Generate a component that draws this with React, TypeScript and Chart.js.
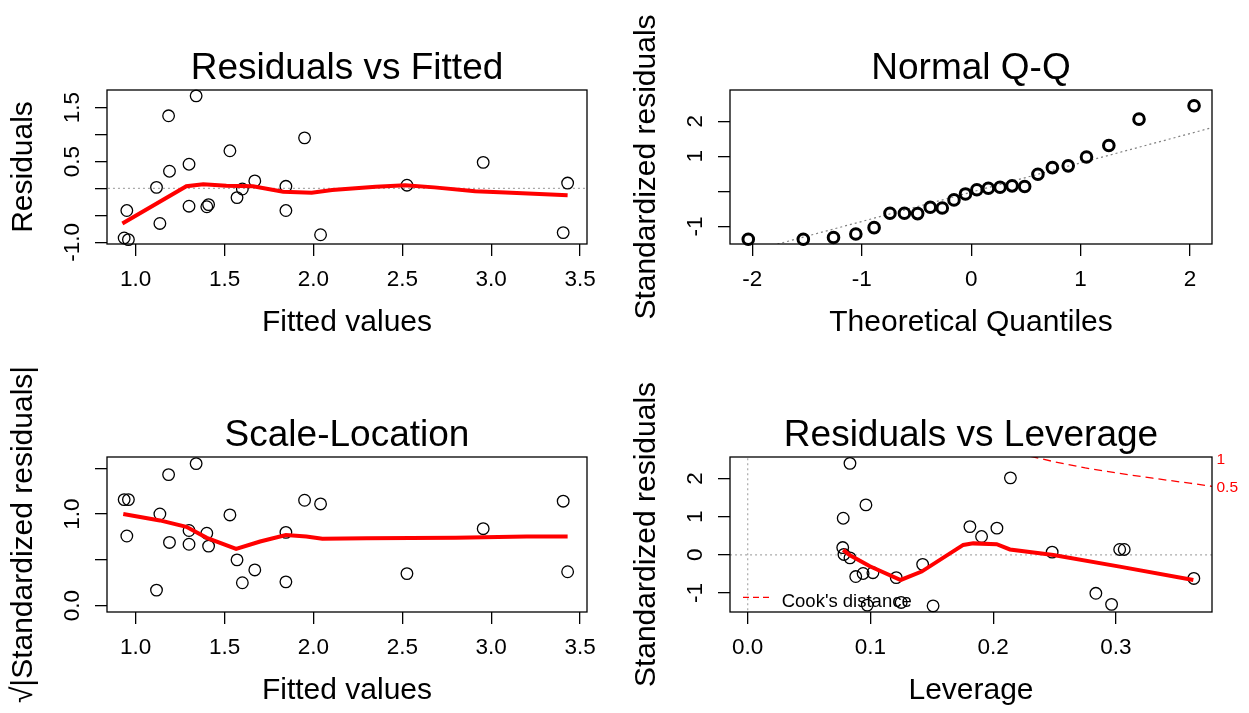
import React, { useEffect, useRef } from "react";
import { Chart, registerables } from "chart.js";

Chart.register(...registerables);

const FONT = '"Liberation Sans", Arial, Helvetica, sans-serif';

// ---------- Panel 1: Residuals vs Fitted ----------
const fittedValues = [0.935, 0.959, 0.95, 1.136, 1.117, 1.19, 1.185, 1.3, 1.3, 1.34, 1.4, 1.41, 1.53, 1.57, 1.6, 1.67, 1.845, 1.845, 1.95, 2.04, 2.526, 2.955, 3.43, 3.405];
const residuals = [-0.92, -0.95, -0.41, -0.65, 0.02, 0.32, 1.35, 0.45, -0.33, 1.72, -0.34, -0.3, 0.7, -0.17, -0.01, 0.14, 0.04, -0.41, 0.94, -0.86, 0.06, 0.485, 0.1, -0.82];
const rvfSmoothX = [0.925, 1.285, 1.38, 1.51, 1.66, 1.83, 1.99, 2.105, 2.35, 2.516, 2.68, 2.91, 3.08, 3.43];
const rvfSmoothY = [-0.65, 0.04, 0.08, 0.05, 0.04, -0.06, -0.08, -0.03, 0.03, 0.06, 0.02, -0.05, -0.075, -0.125];
const fittedTicks = [1.0, 1.5, 2.0, 2.5, 3.0, 3.5];
const fittedTickLabels = ["1.0", "1.5", "2.0", "2.5", "3.0", "3.5"];
const residTicks = [-1.0, -0.5, 0, 0.5, 1.0, 1.5];
const residTickLabels = ["-1.0", "", "", "0.5", "", "1.5"];

// ---------- Panel 2: Normal Q-Q ----------
const theoreticalQuantiles = [-2.037, -1.534, -1.258, -1.054, -0.887, -0.742, -0.61, -0.489, -0.374, -0.264, -0.157, -0.052, 0.052, 0.157, 0.264, 0.374, 0.489, 0.61, 0.742, 0.887, 1.054, 1.258, 1.534, 2.037];
const stdResidualsSorted = [-1.36, -1.36, -1.31, -1.21, -1.03, -0.62, -0.62, -0.63, -0.45, -0.47, -0.24, -0.07, 0.05, 0.09, 0.12, 0.16, 0.14, 0.49, 0.68, 0.73, 0.98, 1.31, 2.06, 2.44];
const qqLineX = [-2.3, 2.3];
const qqLineY = [-1.94, 1.9];
const qqXTicks = [-2, -1, 0, 1, 2];
const qqXTickLabels = ["-2", "-1", "0", "1", "2"];
const qqYTicks = [-1, 0, 1, 2];
const qqYTickLabels = ["-1", "", "1", "2"];

// ---------- Panel 3: Scale-Location ----------
const sqrtStdResiduals = [1.157, 1.157, 0.76, 1.0, 0.17, 0.69, 1.43, 0.82, 0.67, 1.55, 0.79, 0.65, 0.99, 0.5, 0.25, 0.39, 0.8, 0.26, 1.15, 1.11, 0.35, 0.84, 0.37, 1.14];
const slSmoothX = [0.93, 1.136, 1.285, 1.4, 1.565, 1.7, 1.845, 1.96, 2.05, 2.3, 2.8, 3.2, 3.43];
const slSmoothY = [1.0, 0.93, 0.86, 0.74, 0.62, 0.7, 0.77, 0.755, 0.73, 0.735, 0.74, 0.755, 0.755];
const slYTicks = [0, 0.5, 1.0, 1.5];
const slYTickLabels = ["0.0", "", "1.0", ""];

// ---------- Panel 4: Residuals vs Leverage ----------
const leverage = [0.0833, 0.0963, 0.0778, 0.0774, 0.0784, 0.0833, 0.088, 0.094, 0.102, 0.0974, 0.121, 0.125, 0.1425, 0.151, 0.181, 0.1905, 0.203, 0.214, 0.248, 0.2836, 0.2964, 0.303, 0.3067, 0.3634];
const levStdResiduals = [2.4, 1.31, 0.96, 0.19, 0.01, -0.08, -0.57, -0.49, -0.47, -1.32, -0.6, -1.25, -0.25, -1.34, 0.74, 0.48, 0.7, 2.02, 0.07, -1.01, -1.3, 0.14, 0.14, -0.62];
const levSmoothX = [0.0778, 0.083, 0.0995, 0.1246, 0.1417, 0.1756, 0.1837, 0.2028, 0.2136, 0.249, 0.303, 0.363];
const levSmoothY = [0.13, -0.005, -0.3, -0.66, -0.44, 0.26, 0.3, 0.28, 0.14, -0.005, -0.31, -0.66];
const cookHalfX = [0.22, 0.25, 0.275, 0.3, 0.33, 0.36, 0.38];
const cookHalfY = [2.66, 2.44, 2.28, 2.15, 2.01, 1.88, 1.79];
const cookLevelLabels = ["1", "0.5"];
const cookLabelY = [2.5, 1.75];
const levXTicks = [0, 0.1, 0.2, 0.3];
const levXTickLabels = ["0.0", "0.1", "0.2", "0.3"];
const levYTicks = [-1, 0, 1, 2];
const levYTickLabels = ["-1", "0", "1", "2"];

const pts = (xs: number[], ys: number[]) => xs.map((x, i) => ({ x, y: ys[i] }));

const pointSet = (xs: number[], ys: number[], bold = false) => ({
  data: pts(xs, ys),
  showLine: false,
  pointStyle: "circle",
  pointRadius: bold ? 5.3 : 5.8,
  pointBorderWidth: bold ? 3 : 1.3,
  pointBorderColor: "#000",
  pointBackgroundColor: "rgba(0,0,0,0)",
  borderColor: "#000",
  backgroundColor: "rgba(0,0,0,0)",
  clip: false,
});

const lineSet = (xs: number[], ys: number[], color: string, width: number, dash: number[] = []) => ({
  data: pts(xs, ys),
  showLine: true,
  pointRadius: 0,
  borderColor: color,
  backgroundColor: color,
  borderWidth: width,
  borderDash: dash,
  fill: false,
  tension: 0,
  clip: 0,
});

const framePlugin = {
  id: "frame",
  afterDatasetsDraw(chart: any) {
    const { ctx, chartArea } = chart;
    ctx.save();
    ctx.strokeStyle = "#000";
    ctx.lineWidth = 1.3;
    ctx.strokeRect(chartArea.left, chartArea.top, chartArea.right - chartArea.left, chartArea.bottom - chartArea.top);
    ctx.restore();
  },
};

const cookPlugin = {
  id: "cookLegend",
  afterDraw(chart: any) {
    const { ctx, chartArea, scales } = chart;
    ctx.save();
    ctx.strokeStyle = "#ff0000";
    ctx.lineWidth = 1.3;
    ctx.setLineDash([6, 4]);
    const ly = chartArea.bottom - 14.7;
    ctx.beginPath();
    ctx.moveTo(chartArea.left + 13, ly);
    ctx.lineTo(chartArea.left + 40, ly);
    ctx.stroke();
    ctx.setLineDash([]);
    ctx.fillStyle = "#000";
    ctx.font = `18.5px ${FONT}`;
    ctx.textAlign = "left";
    ctx.textBaseline = "alphabetic";
    ctx.fillText("Cook's distance", chartArea.left + 51.7, chartArea.bottom - 5.3);
    ctx.fillStyle = "#ff0000";
    ctx.font = `15.5px ${FONT}`;
    ctx.textBaseline = "middle";
    cookLevelLabels.forEach((t, i) => {
      ctx.fillText(t, chartArea.right + 4.5, scales.y.getPixelForValue(cookLabelY[i]));
    });
    ctx.restore();
  },
};

type Panel = {
  area: { left: number; top: number; right: number; bottom: number };
  xMin: number; xMax: number; yMin: number; yMax: number;
  xTicks: number[]; xLabels: string[];
  yTicks: number[]; yLabels: string[];
  yPad: number;
  title: string; xTitle: string; yTitle: string;
  datasets: any[];
  plugins: any[];
};

const W = 1249;
const H = 713;
const YAXIS_W = 107;
const XAXIS_H = 100;
const TITLE_H = 90;

const panels: Panel[] = [
  {
    area: { left: 107, top: 90, right: 587, bottom: 244 },
    xMin: 0.8385, xMax: 3.539, yMin: -1.032, yMax: 1.829,
    xTicks: fittedTicks, xLabels: fittedTickLabels,
    yTicks: residTicks, yLabels: residTickLabels, yPad: 2.8,
    title: "Residuals vs Fitted", xTitle: "Fitted values", yTitle: "Residuals",
    datasets: [
      lineSet(rvfSmoothX, rvfSmoothY, "#ff0000", 4),
      pointSet(fittedValues, residuals),
      lineSet([0, 5], [0, 0], "#aaaaaa", 1.2, [2, 3]),
    ],
    plugins: [framePlugin],
  },
  {
    area: { left: 730, top: 90, right: 1212, bottom: 244 },
    xMin: -2.204, xMax: 2.201, yMin: -1.496, yMax: 2.89,
    xTicks: qqXTicks, xLabels: qqXTickLabels,
    yTicks: qqYTicks, yLabels: qqYTickLabels, yPad: 12.2,
    title: "Normal Q-Q", xTitle: "Theoretical Quantiles", yTitle: "Standardized residuals",
    datasets: [
      pointSet(theoreticalQuantiles, stdResidualsSorted, true),
      lineSet(qqLineX, qqLineY, "#808080", 1.2, [2, 3]),
    ],
    plugins: [framePlugin],
  },
  {
    area: { left: 107, top: 457, right: 587, bottom: 612 },
    xMin: 0.8385, xMax: 3.539, yMin: -0.069, yMax: 1.622,
    xTicks: fittedTicks, xLabels: fittedTickLabels,
    yTicks: slYTicks, yLabels: slYTickLabels, yPad: 6.55,
    title: "Scale-Location", xTitle: "Fitted values", yTitle: "\u221A|Standardized residuals|",
    datasets: [
      lineSet(slSmoothX, slSmoothY, "#ff0000", 4),
      pointSet(fittedValues, sqrtStdResiduals),
    ],
    plugins: [framePlugin],
  },
  {
    area: { left: 730, top: 457, right: 1212, bottom: 612 },
    xMin: -0.01442, xMax: 0.3782, yMin: -1.501, yMax: 2.567,
    xTicks: levXTicks, xLabels: levXTickLabels,
    yTicks: levYTicks, yLabels: levYTickLabels, yPad: 12.2,
    title: "Residuals vs Leverage", xTitle: "Leverage", yTitle: "Standardized residuals",
    datasets: [
      lineSet(levSmoothX, levSmoothY, "#ff0000", 4),
      pointSet(leverage, levStdResiduals),
      lineSet(cookHalfX, cookHalfY, "#ff0000", 1.3, [8, 5]),
      lineSet([-1, 1], [0, 0], "#aaaaaa", 1.2, [2, 3]),
      lineSet([0, 0], [-5, 5], "#aaaaaa", 1.2, [2, 3]),
    ],
    plugins: [framePlugin, cookPlugin],
  },
];

function buildConfig(p: Panel): any {
  const tickFont = { size: 22.5, family: FONT };
  return {
    type: "scatter",
    data: { datasets: p.datasets },
    plugins: p.plugins,
    options: {
      animation: false,
      responsive: false,
      maintainAspectRatio: false,
      devicePixelRatio: 1,
      events: [],
      layout: {
        padding: {
          left: p.area.left - YAXIS_W,
          right: W - p.area.right,
          top: p.area.top - TITLE_H,
          bottom: H - p.area.bottom - XAXIS_H,
        },
      },
      plugins: {
        legend: { display: false },
        tooltip: { enabled: false },
        title: {
          display: true,
          text: p.title,
          fullSize: false,
          color: "#000",
          font: { size: 37, family: FONT, weight: "normal", lineHeight: 1 },
          padding: { top: 50, bottom: 3 },
        },
      },
      scales: {
        x: {
          type: "linear",
          position: "bottom",
          min: p.xMin,
          max: p.xMax,
          afterFit: (s: any) => { s.height = XAXIS_H; },
          afterBuildTicks: (s: any) => { s.ticks = p.xTicks.map((v) => ({ value: v })); },
          ticks: {
            autoSkip: false,
            minRotation: 0,
            maxRotation: 0,
            padding: 9.9,
            color: "#000",
            font: tickFont,
            callback: (_v: any, i: number) => p.xLabels[i],
          },
          grid: { drawOnChartArea: false, drawTicks: true, tickLength: 12, color: "#000", lineWidth: 1.3 },
          border: { display: false },
          title: {
            display: true,
            text: p.xTitle,
            color: "#000",
            font: { size: 30, family: FONT },
            padding: { top: 0, bottom: 3.4 },
          },
        },
        y: {
          type: "linear",
          position: "left",
          min: p.yMin,
          max: p.yMax,
          afterFit: (s: any) => { s.width = YAXIS_W; },
          afterBuildTicks: (s: any) => { s.ticks = p.yTicks.map((v) => ({ value: v })); },
          ticks: {
            autoSkip: false,
            minRotation: 90,
            maxRotation: 90,
            crossAlign: "center",
            padding: p.yPad,
            color: "#000",
            font: tickFont,
            callback: (_v: any, i: number) => p.yLabels[i],
          },
          grid: { drawOnChartArea: false, drawTicks: true, tickLength: 12, color: "#000", lineWidth: 1.3 },
          border: { display: false },
          title: {
            display: true,
            text: p.yTitle,
            color: "#000",
            font: { size: 30, family: FONT },
            padding: { top: 5.8, bottom: 0 },
          },
        },
      },
    },
  };
}

export default function App() {
  const canvases = useRef<(HTMLCanvasElement | null)[]>([]);

  useEffect(() => {
    Chart.defaults.font.family = FONT;
    Chart.defaults.color = "#000";
    const charts = panels.map((p, i) => new Chart(canvases.current[i] as HTMLCanvasElement, buildConfig(p)));
    return () => charts.forEach((c) => c.destroy());
  }, []);

  return (
    <div style={{ position: "absolute", left: 0, top: 0, width: W, height: H, background: "#fff", overflow: "hidden" }}>
      {panels.map((_, i) => (
        <canvas
          key={i}
          ref={(el) => { canvases.current[i] = el; }}
          width={W}
          height={H}
          style={{ position: "absolute", left: 0, top: 0, width: W, height: H }}
        />
      ))}
    </div>
  );
}
